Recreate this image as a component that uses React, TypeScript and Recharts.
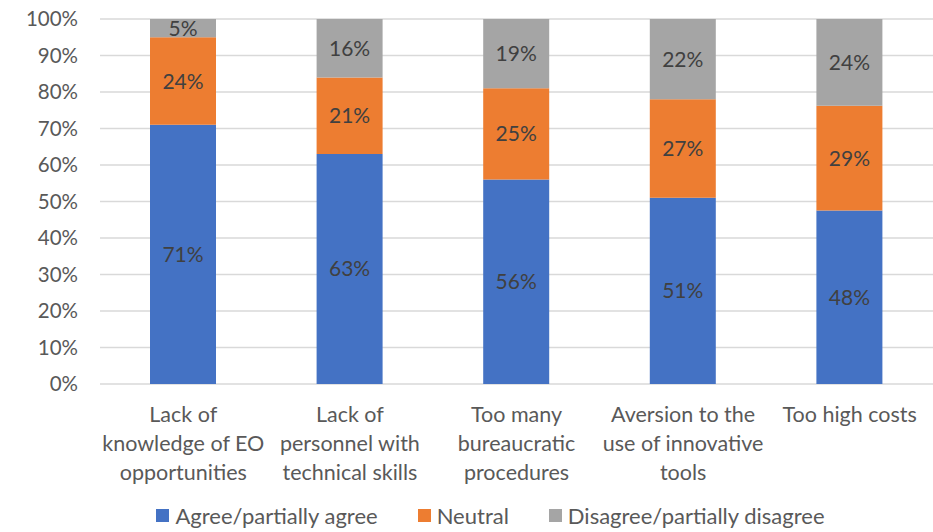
import React from "react";
import { BarChart, Bar, XAxis, YAxis, CartesianGrid, Legend, LabelList } from "recharts";

const categories = [
  "Lack of|knowledge of EO|opportunities",
  "Lack of|personnel with|technical skills",
  "Too many|bureaucratic|procedures",
  "Aversion to the|use of innovative|tools",
  "Too high costs",
];
const agree = [71, 63, 56, 51, 48];
const neutral = [24, 21, 25, 27, 29];
const disagree = [5, 16, 19, 22, 24];
const yTicks = [0, 0.1, 0.2, 0.3, 0.4, 0.5, 0.6, 0.7, 0.8, 0.9, 1];

const SERIES = [
  { key: "agree", name: "Agree/partially agree", color: "#4472C4" },
  { key: "neutral", name: "Neutral", color: "#ED7D31" },
  { key: "disagree", name: "Disagree/partially disagree", color: "#A5A5A5" },
];

const data = categories.map((c, i) => ({
  name: c,
  agree: agree[i],
  neutral: neutral[i],
  disagree: disagree[i],
}));

const FONT = "Lato, 'Open Sans', sans-serif";
const TEXT = "#595959";

function YTick({ y, payload }: any) {
  return (
    <text x={78} y={y} dy={7} textAnchor="end" fontSize={20.5} fill={TEXT} fontFamily={FONT}>
      {`${Math.round(payload.value * 100)}%`}
    </text>
  );
}

function XTick({ x, y, payload }: any) {
  const lines = String(payload.value).split("|");
  return (
    <text x={x} y={y} textAnchor="middle" fontSize={21.5} fill={TEXT} fontFamily={FONT}>
      {lines.map((l, i) => (
        <tspan key={i} x={x} dy={i === 0 ? 30 : 29}>
          {l}
        </tspan>
      ))}
    </text>
  );
}

function LegendContent() {
  return (
    <div
      style={{
        display: "flex",
        justifyContent: "center",
        gap: 40,
        fontFamily: FONT,
        fontSize: 22,
        color: TEXT,
        paddingLeft: 48,
        paddingTop: 8,
      }}
    >
      {SERIES.map((s) => (
        <span key={s.key} style={{ display: "flex", alignItems: "center" }}>
          <span style={{ width: 13, height: 13, background: s.color, marginRight: 6 }} />
          {s.name}
        </span>
      ))}
    </div>
  );
}

export default function App() {
  return (
    <div style={{ position: "absolute", left: 0, top: 0, background: "#fff" }}>
      <BarChart
        width={933}
        height={532}
        data={data}
        stackOffset="expand"
        margin={{ top: 19, right: 0, left: 0, bottom: 0 }}
      >
        <CartesianGrid vertical={false} stroke="#D9D9D9" strokeWidth={1.5} />
        <YAxis
          width={100}
          domain={[0, 1]}
          ticks={yTicks}
          axisLine={false}
          tickLine={false}
          tick={<YTick />}
          interval={0}
        />
        <XAxis
          dataKey="name"
          height={110}
          axisLine={false}
          tickLine={false}
          tick={<XTick />}
          interval={0}
        />
        <Legend verticalAlign="bottom" height={38} content={<LegendContent />} />
        {SERIES.map((s) => (
          <Bar
            key={s.key}
            dataKey={s.key}
            name={s.name}
            stackId="a"
            fill={s.color}
            barSize={66}
            isAnimationActive={false}
          >
            <LabelList
              dataKey={s.key}
              position="center"
              formatter={(v: any) => `${v}%`}
              fill="#404040"
              fontSize={21}
              fontFamily={FONT}
            />
          </Bar>
        ))}
      </BarChart>
    </div>
  );
}
